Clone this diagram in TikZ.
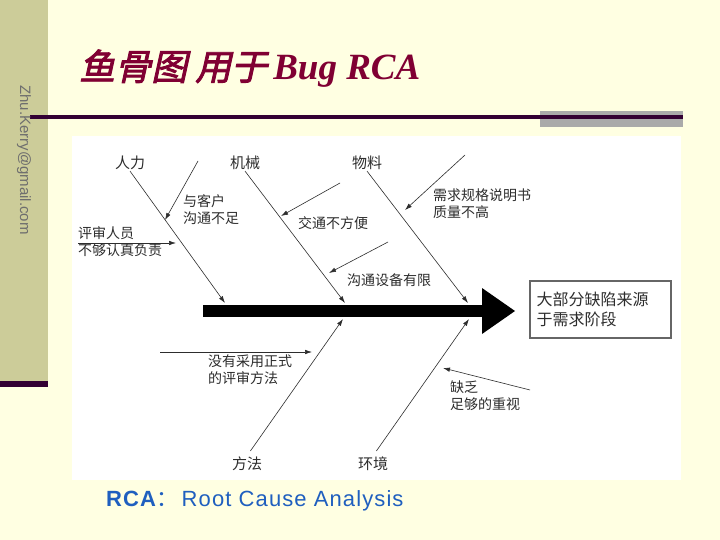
\documentclass[tikz,border=0pt]{standalone}
\usepackage{fontspec}
\setmainfont{Liberation Serif}
\setsansfont{Liberation Sans}
\newfontfamily\cjk{Noto Sans CJK SC}
\newfontfamily\cjktitle[FakeSlant=0.22,FakeBold=2.5]{Noto Sans CJK SC}
\newfontfamily\zhushifont[LetterSpace=5]{Liberation Sans}
\usetikzlibrary{positioning, calc, arrows.meta}

\definecolor{beijing}{RGB}{255,255,226}
\definecolor{cebian}{RGB}{204,204,153}
\definecolor{shenzi}{RGB}{51,0,51}
\definecolor{huitiao}{RGB}{170,170,170}
\definecolor{biaotihong}{RGB}{128,0,51}
\definecolor{youxianghui}{RGB}{110,110,110}
\definecolor{zhushilan}{RGB}{31,95,191}
\definecolor{xian}{RGB}{45,45,45}

\begin{document}
\begin{tikzpicture}[x=1pt, y=-1pt]
	\tikzstyle{lei} = [font=\fontsize{15}{17}\selectfont\cjk, text=xian, inner sep=1pt]
	\tikzstyle{yin} = [font=\fontsize{14}{17}\selectfont\cjk, text=xian, align=left, anchor=west, inner sep=0pt]
	\tikzstyle{gu} = [draw=xian, line width=0.6pt, -{Latex[length=7pt,width=4.5pt]}]
	
	\useasboundingbox (0,0) rectangle (720,540);
	\fill[beijing] (0,0) rectangle (720,540);
	\fill[cebian] (0,0) rectangle (48,383);
	\fill[shenzi] (0,381) rectangle (48,387);
	\fill[huitiao] (540,111) rectangle (683,127);
	\fill[shenzi] (30,115.5) rectangle (683,119.5);
	\fill[white] (72,136) rectangle (681,480);
	
	\node[rotate=-90, text=youxianghui] (youxiang) at (24,160) {\fontsize{15}{18}\selectfont\sffamily Zhu.Kerry@gmail.com};
	\node[anchor=base west, text=biaotihong, inner sep=0pt] (biaoti) at (79,80) {\fontsize{36}{38}\selectfont\cjktitle 鱼骨图 用于\,\rmfamily\bfseries\itshape\fontsize{37}{38}\selectfont Bug RCA};
	
	\fill (203,305) rectangle (483,317);
	\fill (482,288) -- (515,311) -- (482,334) -- cycle;
	\node[draw=black!60, line width=1.2pt, minimum width=141pt, minimum height=57pt, text width=128pt, inner xsep=6.5pt, align=left, font=\fontsize{16}{20}\selectfont\cjk, text=xian] (xiaoguo) at (600.5,309.5) {大部分缺陷来源\\于需求阶段};
	
	\node[lei] (renli) at (130,163) {人力};
	\node[lei] (jixie) at (245,163) {机械};
	\node[lei] (wuliao) at (367,163) {物料};
	\node[lei] (fangfa) at (247,464) {方法};
	\node[lei] (huanjing) at (373,464) {环境};
	
	\coordinate (renli_e) at (225,303);
	\coordinate (jixie_e) at (345,303);
	\coordinate (wuliao_e) at (468,303);
	\coordinate (fangfa_e) at (343,319);
	\coordinate (huanjing_e) at (469,319);
	
	\draw[gu] (renli.south) -- (renli_e);
	\draw[gu] (jixie.south) -- (jixie_e);
	\draw[gu] (wuliao.south) -- (wuliao_e);
	\draw[gu, shorten <=6pt] (fangfa.north) -- (fangfa_e);
	\draw[gu, shorten <=6pt] (huanjing.north) -- (huanjing_e);
	
	\node[yin] (kehu) at (183,209.5) {与客户\\沟通不足};
	\node[yin] (pingshen) at (78,241.5) {评审人员\\不够认真负责};
	\node[yin] (jiaotong) at (298,223) {交通不方便};
	\node[yin] (shebei) at (347,280) {沟通设备有限};
	\node[yin] (xuqiu) at (433,204) {需求规格说明书\\质量不高};
	\node[yin] (zhengshi) at (208,370) {没有采用正式\\的评审方法};
	\node[yin] (zhongshi) at (450,396) {缺乏\\足够的重视};
	
	\coordinate (kehu_s) at (198,161);
	\coordinate (kehu_e) at (165,220);
	\coordinate (pingshen_s) at (78,243);
	\coordinate (pingshen_e) at (176,243);
	\coordinate (jiaotong_s) at (340,183);
	\coordinate (jiaotong_e) at (281,216);
	\coordinate (shebei_s) at (388,242);
	\coordinate (shebei_e) at (329,273);
	\coordinate (xuqiu_s) at (465,155);
	\coordinate (xuqiu_e) at (405,210);
	\coordinate (zhengshi_s) at (160,352);
	\coordinate (zhengshi_e) at (312,352);
	\coordinate (zhongshi_s) at (530,390);
	\coordinate (zhongshi_e) at (443,368);
	
	\draw[gu] (kehu_s) -- (kehu_e);
	\draw[gu] (pingshen_s) -- (pingshen_e);
	\draw[gu] (jiaotong_s) -- (jiaotong_e);
	\draw[gu] (shebei_s) -- (shebei_e);
	\draw[gu] (xuqiu_s) -- (xuqiu_e);
	\draw[gu] (zhengshi_s) -- (zhengshi_e);
	\draw[gu] (zhongshi_s) -- (zhongshi_e);
	
	\node[anchor=west, text=zhushilan, inner sep=0pt] (zhushi) at (106,501) {\fontsize{22}{24}\selectfont\zhushifont\bfseries RCA\cjk\mdseries ：\,\zhushifont Root Cause Analysis};
\end{tikzpicture}
\end{document}
